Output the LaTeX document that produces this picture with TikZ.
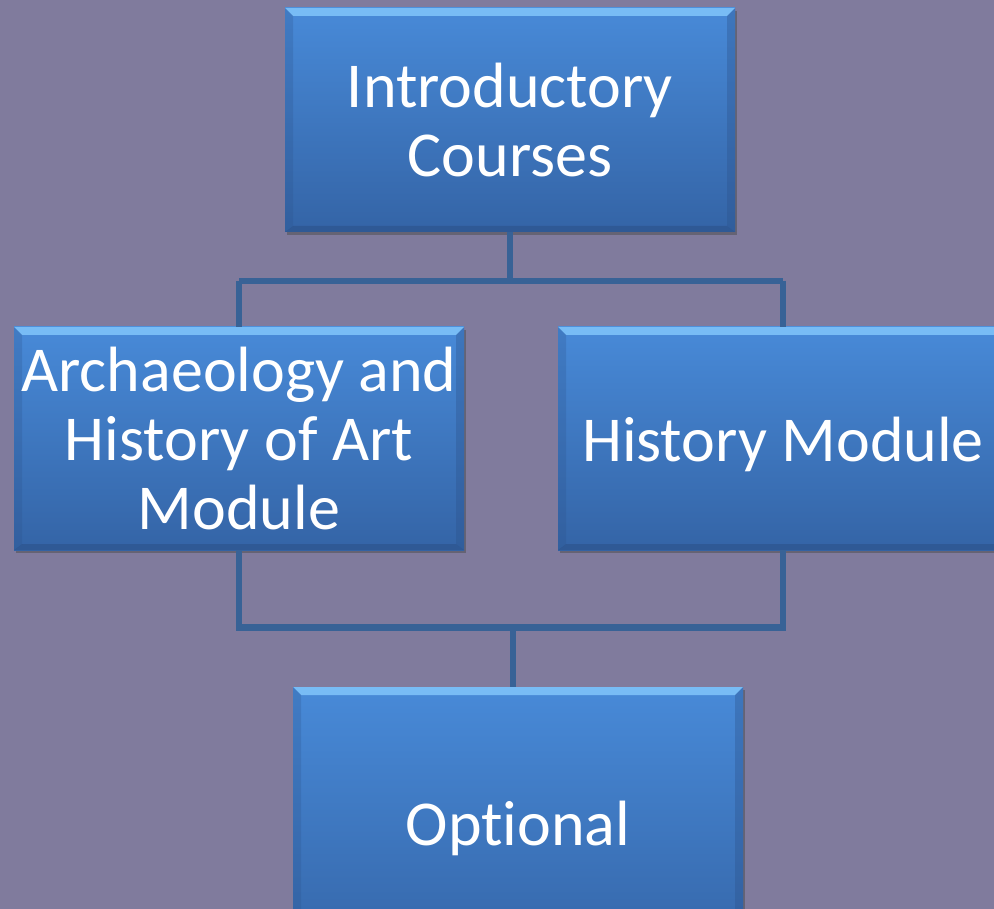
\documentclass[tikz,border=0pt]{standalone}
\usepackage{fontspec}
\setmainfont[Ligatures=NoCommon]{Carlito}
\usetikzlibrary{shadows,calc}
\definecolor{bgcol}{RGB}{128,123,157}
\definecolor{boxtop}{RGB}{72,138,216}
\definecolor{boxbot}{RGB}{52,100,166}
\definecolor{bevlight}{RGB}{120,188,245}
\definecolor{bevdark}{RGB}{44,82,138}
\definecolor{conncol}{RGB}{56,98,150}
\tikzset{
  blockbox/.style={
    rectangle, inner sep=0pt, minimum width=450pt,
    top color=boxtop, bottom color=boxbot,
    text=white, align=center,
    font=\fontsize{64}{69}\selectfont,
    drop shadow={shadow xshift=2pt, shadow yshift=-3pt, opacity=0.5, fill=black!70},
    path picture={
      \fill[bevlight] (path picture bounding box.north west) -- (path picture bounding box.north east)
        -- ([xshift=-8pt,yshift=-8pt]path picture bounding box.north east)
        -- ([xshift=8pt,yshift=-8pt]path picture bounding box.north west) -- cycle;
      \fill[bevdark,opacity=0.6] (path picture bounding box.south west) -- (path picture bounding box.south east)
        -- ([xshift=-8pt,yshift=6pt]path picture bounding box.south east)
        -- ([xshift=8pt,yshift=6pt]path picture bounding box.south west) -- cycle;
      \fill[bevdark,opacity=0.25] (path picture bounding box.north west) -- ([xshift=8pt,yshift=-8pt]path picture bounding box.north west)
        -- ([xshift=8pt,yshift=6pt]path picture bounding box.south west) -- (path picture bounding box.south west) -- cycle;
      \fill[bevdark,opacity=0.35] (path picture bounding box.north east) -- ([xshift=-8pt,yshift=-8pt]path picture bounding box.north east)
        -- ([xshift=-8pt,yshift=6pt]path picture bounding box.south east) -- (path picture bounding box.south east) -- cycle;
    }
  },
  conn/.style={draw=conncol, line width=5.5pt}
}
\begin{document}
\begin{tikzpicture}[x=1pt,y=-1pt]
\useasboundingbox (0,0) rectangle (994,909);
\fill[bgcol] (0,0) rectangle (994,909);
\clip (0,0) rectangle (994,909);
\coordinate (j1) at (510,281);
\coordinate (j2) at (513,627);
\node[blockbox, minimum height=224pt] (top) at (510,120) {Introductory\\Courses};
\node[blockbox, minimum height=223pt] (left) at (239,438.5) {Archaeology and\\History of Art\\Module};
\node[blockbox, minimum height=223pt, text depth=2pt] (right) at (783,438.5) {\raisebox{-4pt}{History Module}};
\node[blockbox, minimum height=282pt] (opt) at (518,828) {\raisebox{-2pt}{Optional}};
\draw[conn] (top.south) -- (j1);
\draw[conn] (j1 -| left.north) -- (j1 -| right.north);
\draw[conn] (j1 -| left.north) -- (left.north);
\draw[conn] (j1 -| right.north) -- (right.north);
\draw[conn] (left.south) -- (left.south |- j2);
\draw[conn] (right.south) -- (right.south |- j2);
\draw[conn, line width=7pt] ([xshift=-2.75pt]left.south |- j2) -- ([xshift=2.75pt]right.south |- j2);
\draw[conn] (j2) -- (j2 |- opt.north);
\end{tikzpicture}
\end{document}
